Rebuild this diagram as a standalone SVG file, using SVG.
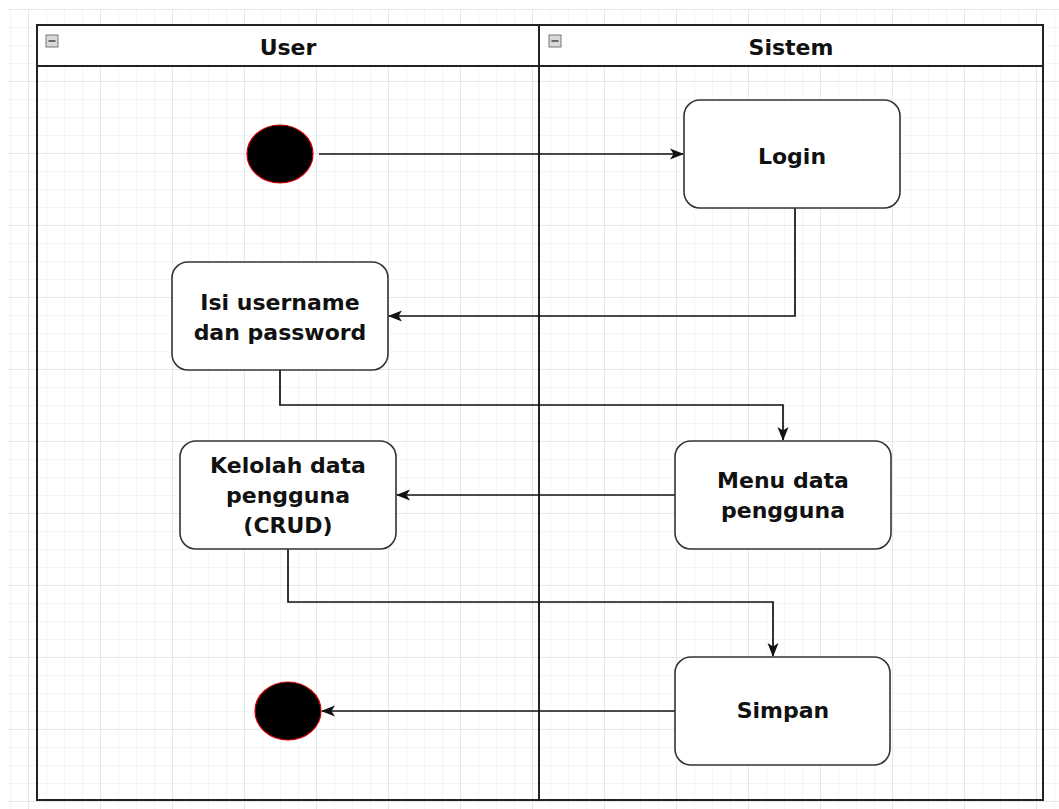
<svg xmlns="http://www.w3.org/2000/svg" width="1059" height="809" viewBox="0 0 1059 809">
<style>
.node{fill:#ffffff;stroke:#333333;stroke-width:1.6}
.lbl{font-family:"DejaVu Sans",Verdana,sans-serif;font-weight:bold;font-size:22px;fill:#111111;text-anchor:middle}
.hdr{font-family:"DejaVu Sans",Verdana,sans-serif;font-weight:bold;font-size:22px;fill:#111111;text-anchor:middle}
.edge{fill:none;stroke:#111111;stroke-width:1.7}
.dot{fill:#000000;stroke:#cc0000;stroke-width:1.2}
.pool{fill:none;stroke:#222222;stroke-width:2}
.icon{fill:#d8d8d8;stroke:#777777;stroke-width:1}
</style>
<defs>
<pattern id="minor" x="10" y="9" width="18" height="18" patternUnits="userSpaceOnUse">
<path d="M0 0H18M0 0V18" fill="none" stroke="#ececec" stroke-width="1"/>
</pattern>
<pattern id="major" x="28" y="9" width="72" height="72" patternUnits="userSpaceOnUse">
<path d="M0 0H72M0 0V72" fill="none" stroke="#d9d9d9" stroke-width="1"/>
</pattern>
<marker id="arrow" viewBox="0 0 14 14" refX="13" refY="7" markerWidth="14" markerHeight="14" markerUnits="userSpaceOnUse" orient="auto">
<path d="M0 1.5L14 7L0 12.5L3.5 7Z" fill="#111111"/>
</marker>
</defs>
<rect width="1059" height="809" fill="#ffffff"/>
<rect x="8" y="9" width="1051" height="800" fill="url(#minor)"/>
<rect x="8" y="9" width="1051" height="800" fill="url(#major)"/>

<g id="pool">
<rect x="37" y="25" width="1006" height="41" fill="#ffffff"/>
<rect class="pool" x="37" y="25" width="1006" height="775"/>
<line class="pool" x1="37" y1="66" x2="1043" y2="66"/>
<line class="pool" x1="539" y1="25" x2="539" y2="800"/>
</g>
<g id="lane-user">
<rect class="icon" x="46" y="35" width="12" height="12"/>
<line x1="48.5" y1="41" x2="55.5" y2="41" stroke="#444444" stroke-width="1.5"/>
<text class="hdr" x="288" y="55">User</text>
</g>
<g id="lane-sistem">
<rect class="icon" x="549" y="35" width="12" height="12"/>
<line x1="551.5" y1="41" x2="558.5" y2="41" stroke="#444444" stroke-width="1.5"/>
<text class="hdr" x="791" y="55">Sistem</text>
</g>

<g id="connectors">
<path class="edge" d="M319 154H683" marker-end="url(#arrow)"/>
<path class="edge" d="M795 208V316H389" marker-end="url(#arrow)"/>
<path class="edge" d="M280 370V405H783V440" marker-end="url(#arrow)"/>
<path class="edge" d="M675 495H397" marker-end="url(#arrow)"/>
<path class="edge" d="M288 549V602H773V656" marker-end="url(#arrow)"/>
<path class="edge" d="M675 711H322" marker-end="url(#arrow)"/>
</g>

<g id="start">
<ellipse class="dot" cx="280" cy="154" rx="33" ry="29"/>
</g>
<g id="login">
<rect class="node" x="684" y="100" width="216" height="108" rx="16"/>
<text class="lbl" x="792" y="164">Login</text>
</g>
<g id="isi">
<rect class="node" x="172" y="262" width="216" height="108" rx="16"/>
<text class="lbl" x="280" y="310">Isi username</text>
<text class="lbl" x="280" y="340">dan password</text>
</g>
<g id="menu">
<rect class="node" x="675" y="441" width="216" height="108" rx="16"/>
<text class="lbl" x="783" y="488">Menu data</text>
<text class="lbl" x="783" y="518">pengguna</text>
</g>
<g id="kelolah">
<rect class="node" x="180" y="441" width="216" height="108" rx="16"/>
<text class="lbl" x="288" y="473">Kelolah data</text>
<text class="lbl" x="288" y="503">pengguna</text>
<text class="lbl" x="288" y="533">(CRUD)</text>
</g>
<g id="simpan">
<rect class="node" x="675" y="657" width="215" height="108" rx="16"/>
<text class="lbl" x="783" y="718">Simpan</text>
</g>
<g id="end">
<ellipse class="dot" cx="288" cy="711" rx="33" ry="29"/>
</g>
</svg>
